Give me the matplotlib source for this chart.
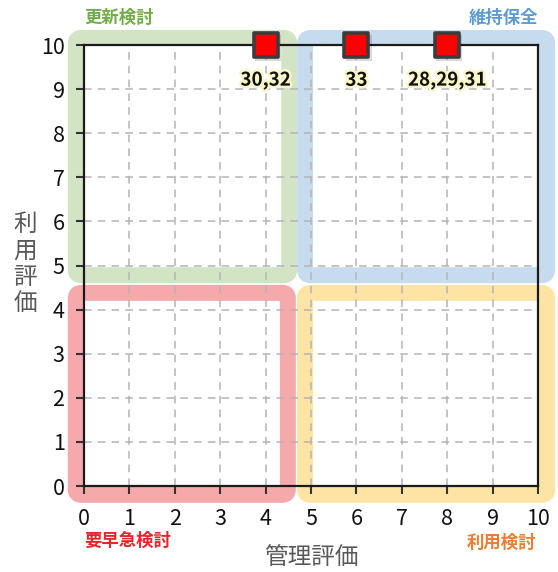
import matplotlib
matplotlib.use("Agg")
import matplotlib.pyplot as plt
import matplotlib.patheffects as pe
from matplotlib.patches import FancyBboxPatch

plt.rcParams["font.family"] = ["Noto Sans CJK JP", "DejaVu Sans"]

# ── data ────────────────────────────────────────────────────────────────
mgmt_score = [4, 6, 8]          # 管理評価
use_score = [10, 10, 10]        # 利用評価
point_labels = ["30,32", "33", "28,29,31"]
ticks = list(range(0, 11))

quadrant_names = ["更新検討", "維持保全", "要早急検討", "利用検討"]
quadrant_colors = ["#d3e4c5", "#c7dbef", "#f6a9ab", "#fde4a4"]
quadrant_text_colors = ["#70ad47", "#5b9bd5", "#e8232b", "#ed7d31"]

fig = plt.figure(figsize=(5.58, 5.72), dpi=100, facecolor="white")
ax = fig.add_axes([0.1505, 0.1503, 0.8137, 0.771])
ax.set_xlim(0, 10)
ax.set_ylim(0, 10)

# quadrant frames (thick rounded borders, data coords)
frames = [(-0.18, 4.78, 4.70, 5.38),   # x0, y0, w, h
          (4.87, 4.78, 5.33, 5.38),
          (-0.18, -0.20, 4.67, 4.58),
          (4.87, -0.20, 5.33, 4.58)]
for (x0, y0, w, h), col in zip(frames, quadrant_colors):
    box = FancyBboxPatch((x0, y0), w, h,
                         boxstyle="round,pad=0,rounding_size=0.12",
                         facecolor="none", edgecolor=col, linewidth=11.5,
                         clip_on=False, zorder=0.2, joinstyle="round")
    ax.add_patch(box)

ax.set_xticks(ticks)
ax.set_yticks(ticks)
ax.grid(True, color="#b4b4b4", linestyle=(0, (5, 4)), linewidth=1.1)
ax.set_axisbelow(True)
for s in ax.spines.values():
    s.set_color("#1a1a1a")
    s.set_linewidth(1.6)
    s.set_zorder(2)
ax.tick_params(direction="out", length=6, width=1.5, color="#333333",
               labelsize=15.5, labelcolor="#111111")
ax.tick_params(axis="x", pad=10)
ax.tick_params(axis="y", pad=8)

# markers with a soft shadow
ax.scatter([x + 0.05 for x in mgmt_score], [y - 0.07 for y in use_score],
           marker="s", s=330, color="#000000", alpha=0.15, linewidths=0,
           clip_on=False, zorder=4)
ax.scatter(mgmt_score, use_score, marker="s", s=300, color="#ff0000",
           edgecolors="#3c3c3c", linewidths=2.6, clip_on=False, zorder=5)

for x, y, lab in zip(mgmt_score, use_score, point_labels):
    ax.text(x, y - 0.8, lab, ha="center", va="center", fontsize=13.5,
            fontweight="bold", color="#111111", zorder=6,
            path_effects=[pe.withStroke(linewidth=3.5, foreground="#fbf6c8")])

# quadrant names
fig.text(84 / 558, 1 - 18 / 572, quadrant_names[0], ha="left", va="center",
         fontsize=12.5, fontweight="bold", color=quadrant_text_colors[0])
fig.text(538 / 558, 1 - 18 / 572, quadrant_names[1], ha="right", va="center",
         fontsize=12.5, fontweight="bold", color=quadrant_text_colors[1])
fig.text(84 / 558, 1 - 541 / 572, quadrant_names[2], ha="left", va="center",
         fontsize=12.5, fontweight="bold", color=quadrant_text_colors[2])
fig.text(536 / 558, 1 - 543 / 572, quadrant_names[3], ha="right", va="center",
         fontsize=12.5, fontweight="bold", color=quadrant_text_colors[3])

# axis titles
fig.text(311 / 558, 1 - 557 / 572, "管理評価", ha="center", va="center",
         fontsize=17, color="#595959")
fig.text(25 / 558, 1 - 264 / 572, "利\n用\n評\n価", ha="center", va="center",
         fontsize=17, color="#595959", linespacing=1.2)

fig.savefig("out.png", dpi=100, facecolor="white")
